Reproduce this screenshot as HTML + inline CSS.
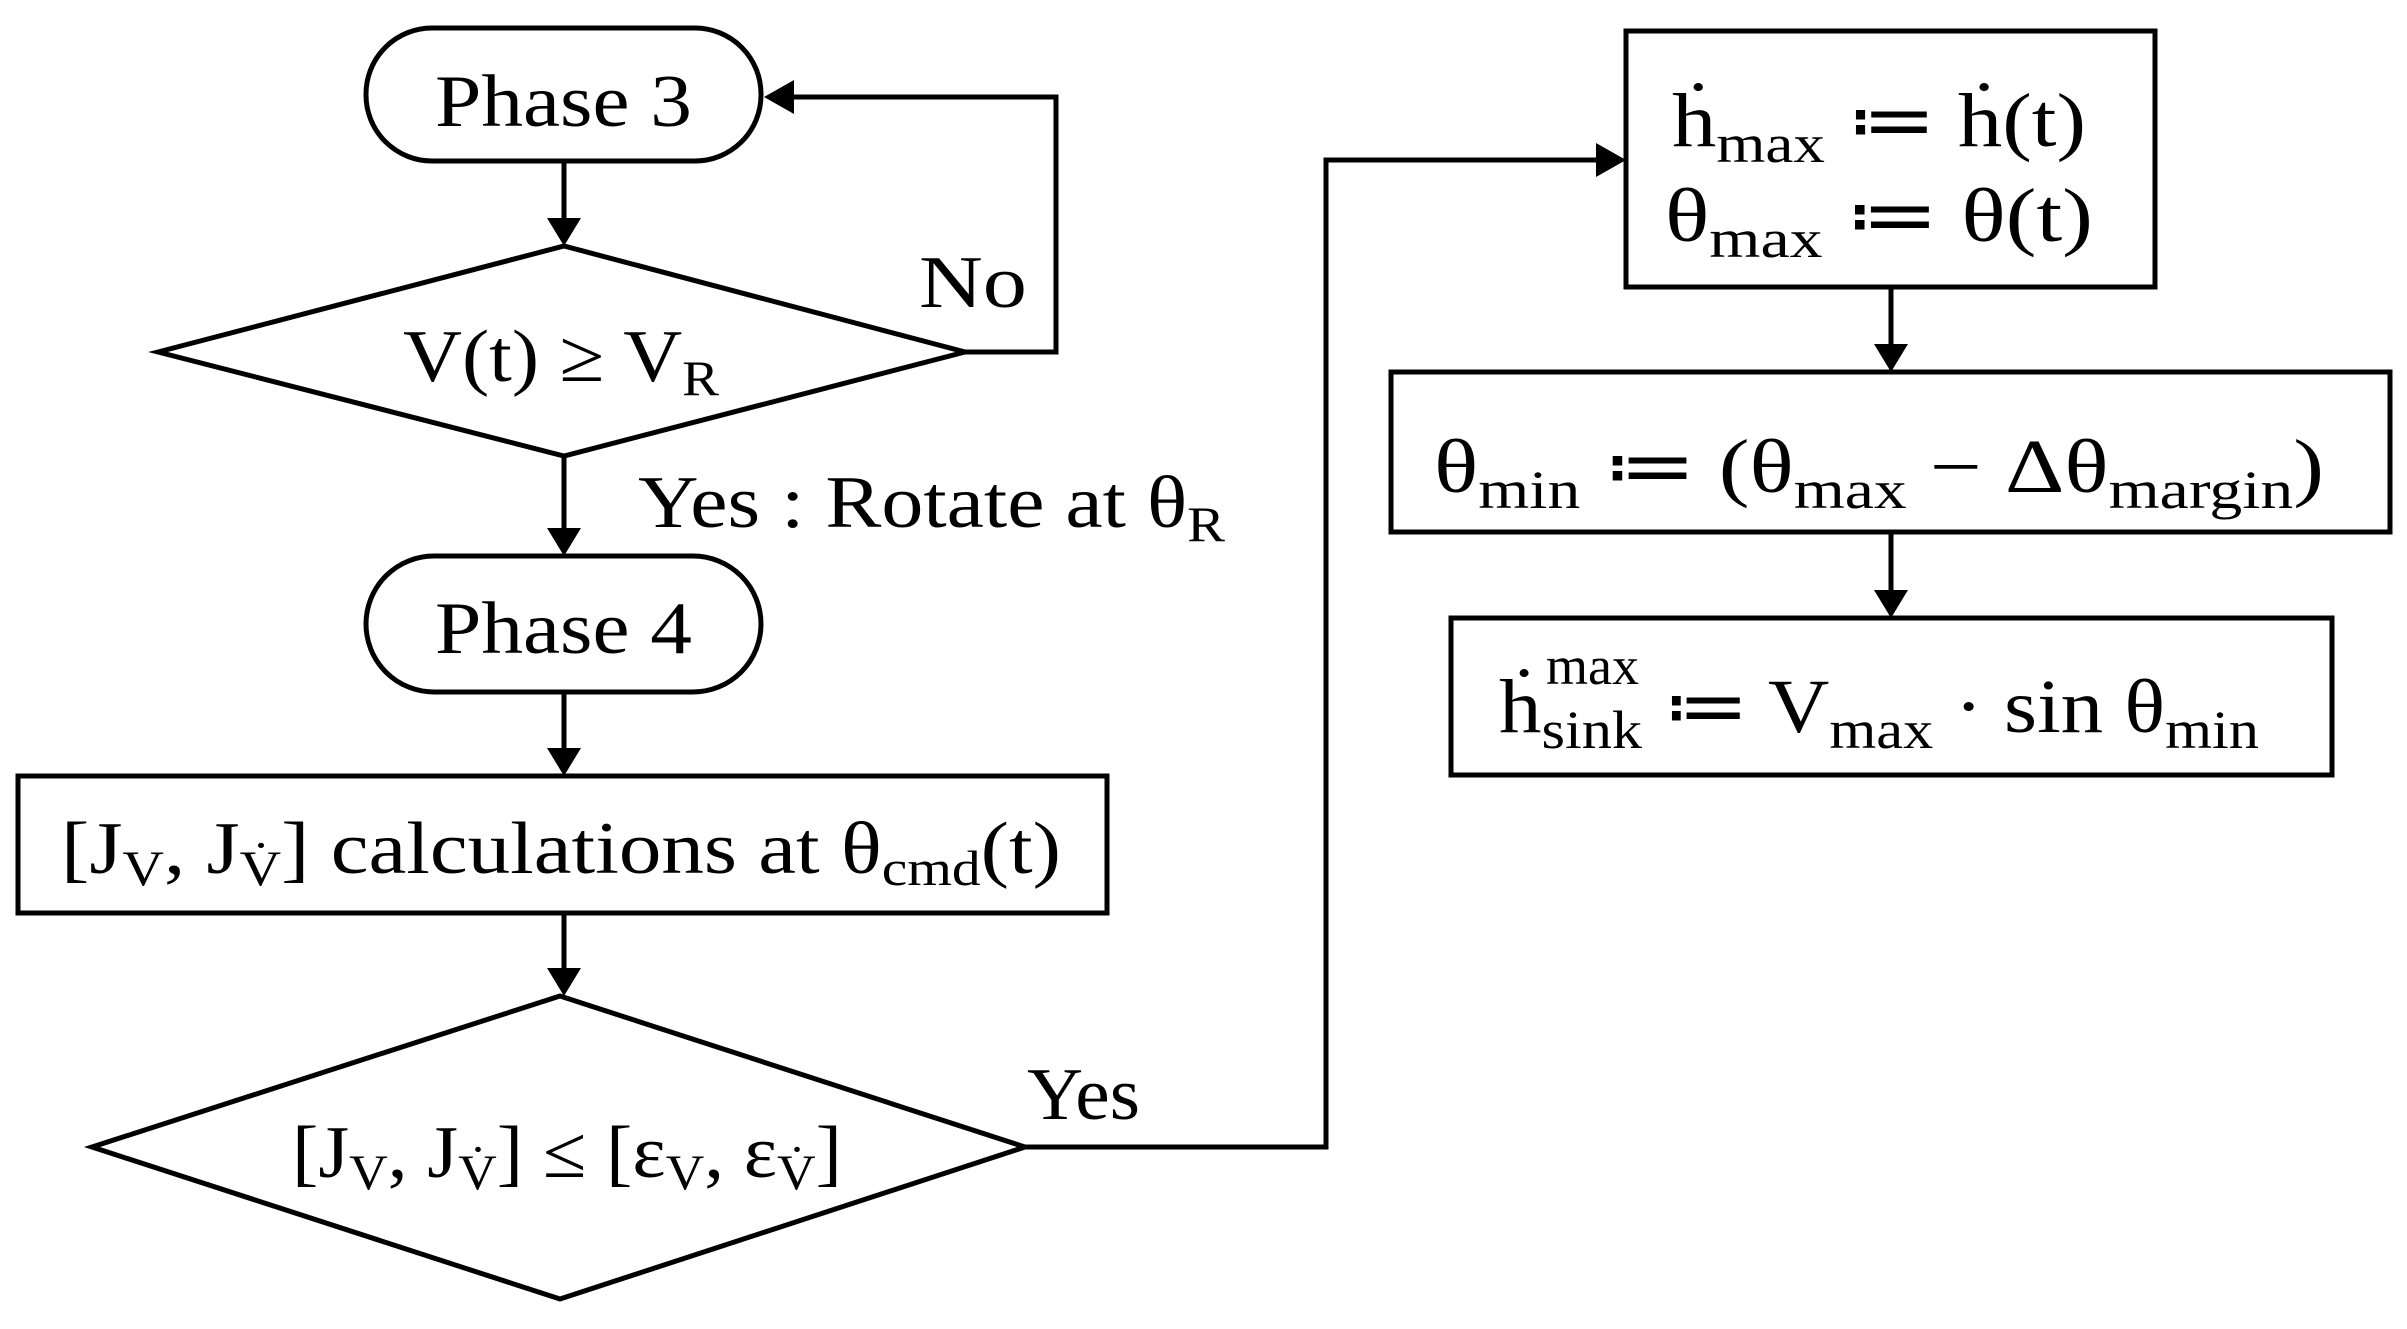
<!DOCTYPE html>
<html><head><meta charset="utf-8"><style>
html,body{margin:0;padding:0;background:#fff;}
svg{display:block;}
text{font-family:"Liberation Serif",serif;fill:#000;}
</style></head><body>
<svg width="2407" height="1329" viewBox="0 0 2407 1329" xmlns="http://www.w3.org/2000/svg">
<g fill="none" stroke="#000" stroke-width="5">
<rect x="366" y="28" width="395" height="133" rx="66" ry="66"/>
<polygon points="158,352 564,246 965,352 564,456"/>
<rect x="366" y="556" width="395" height="136" rx="68" ry="68"/>
<rect x="18" y="776" width="1089" height="137"/>
<polygon points="92,1147 560,996 1025,1147 560,1299"/>
<rect x="1626" y="31" width="529" height="256"/>
<rect x="1391" y="372" width="999" height="160"/>
<rect x="1451" y="618" width="881" height="157"/>
</g>
<g stroke="#000" stroke-width="5" fill="none">
<line x1="564" y1="161" x2="564" y2="218"/>
<line x1="564" y1="456" x2="564" y2="528"/>
<line x1="564" y1="692" x2="564" y2="748"/>
<line x1="564" y1="913" x2="564" y2="968"/>
<polyline points="965,352 1056,352 1056,97 794,97"/>
<polyline points="1025,1147 1326,1147 1326,160 1596,160"/>
<line x1="1891" y1="287" x2="1891" y2="344"/>
<line x1="1891" y1="532" x2="1891" y2="590"/>
</g>
<g fill="#000">
<polygon points="547,218 581,218 564,246"/>
<polygon points="547,528 581,528 564,556"/>
<polygon points="547,748 581,748 564,776"/>
<polygon points="547,968 581,968 564,996"/>
<polygon points="794,80 794,114 764,97"/>
<polygon points="1596,143 1596,177 1626,160"/>
<polygon points="1874,344 1908,344 1891,372"/>
<polygon points="1874,590 1908,590 1891,618"/>
</g>
<g font-size="74">
<text x="435" y="126" textLength="257" lengthAdjust="spacingAndGlyphs">Phase 3</text>
<text x="435" y="653" textLength="257" lengthAdjust="spacingAndGlyphs">Phase 4</text>
<text x="403" y="381" textLength="316" lengthAdjust="spacingAndGlyphs">V(t) ≥ V<tspan font-size="50" dy="14">R</tspan></text>
<text x="919" y="307" textLength="108" lengthAdjust="spacingAndGlyphs">No</text>
<text x="1027" y="1119" textLength="113" lengthAdjust="spacingAndGlyphs">Yes</text>
<text x="638" y="527" textLength="587" lengthAdjust="spacingAndGlyphs">Yes : Rotate at θ<tspan font-size="50" dy="14">R</tspan></text>
<text x="61" y="873" textLength="1000" lengthAdjust="spacingAndGlyphs">[J<tspan font-size="50" dy="12">V</tspan><tspan dy="-12">, J</tspan><tspan font-size="50" dy="12">V̇</tspan><tspan dy="-12">] calculations at θ</tspan><tspan font-size="50" dy="12">cmd</tspan><tspan dy="-12">(t)</tspan></text>
<text x="292" y="1177" textLength="550" lengthAdjust="spacingAndGlyphs">[J<tspan font-size="50" dy="12">V</tspan><tspan dy="-12">, J</tspan><tspan font-size="50" dy="12">V̇</tspan><tspan dy="-12">] ≤ [ε</tspan><tspan font-size="50" dy="12">V</tspan><tspan dy="-12">, ε</tspan><tspan font-size="50" dy="12">V̇</tspan><tspan dy="-12">]</tspan></text>
</g>
<g font-size="76">
<text x="1672" y="146" textLength="414" lengthAdjust="spacingAndGlyphs">ḣ<tspan font-size="54" dy="16">max</tspan><tspan dy="-16"> ≔ ḣ(t)</tspan></text>
<text x="1665" y="241" textLength="428" lengthAdjust="spacingAndGlyphs">θ<tspan font-size="54" dy="16">max</tspan><tspan dy="-16">  ≔ θ(t)</tspan></text>
<text x="1434" y="492" textLength="890" lengthAdjust="spacingAndGlyphs">θ<tspan font-size="54" dy="16">min</tspan><tspan dy="-16"> ≔ (θ</tspan><tspan font-size="54" dy="16">max</tspan><tspan dy="-16"> − Δθ</tspan><tspan font-size="54" dy="16">margin</tspan><tspan dy="-16">)</tspan></text>
<text x="1499" y="732" textLength="760" lengthAdjust="spacingAndGlyphs">ḣ<tspan font-size="54" dy="16">sink</tspan><tspan dy="-16"> ≔ V</tspan><tspan font-size="54" dy="16">max</tspan><tspan dy="-16"> · sin θ</tspan><tspan font-size="54" dy="16">min</tspan></text>
<text x="1546" y="684" font-size="54">max</text>
</g>
</svg>
</body></html>
